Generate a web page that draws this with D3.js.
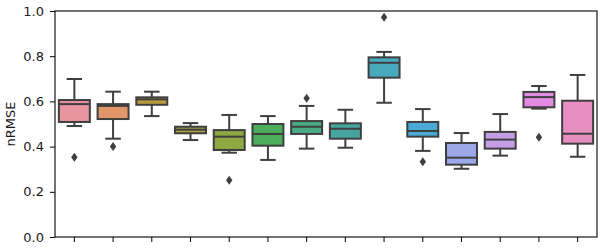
<!DOCTYPE html>
<html><head><meta charset="utf-8">
<script src="https://cdn.jsdelivr.net/npm/d3@7"></script>
<style>body{margin:0;background:#fff}svg{display:block}</style>
</head><body>
<svg id="c" width="604" height="248"></svg>
<script>
const categories = ["m1","m2","m3","m4","m5","m6","m7","m8","m9","m10","m11","m12","m13","m14"];
const whiskerLow = [0.491,0.435,0.535,0.429,0.373,0.341,0.391,0.395,0.594,0.381,0.302,0.360,0.568,0.355];
const q1 =         [0.509,0.522,0.585,0.459,0.385,0.404,0.456,0.435,0.705,0.444,0.320,0.391,0.574,0.413];
const median =     [0.588,0.580,0.609,0.475,0.444,0.456,0.488,0.479,0.771,0.469,0.351,0.431,0.619,0.457];
const q3 =         [0.606,0.588,0.618,0.488,0.473,0.500,0.513,0.503,0.795,0.509,0.416,0.465,0.642,0.603];
const whiskerHigh =[0.699,0.643,0.643,0.504,0.540,0.535,0.580,0.563,0.819,0.566,0.460,0.544,0.668,0.717];
const outliers =   [[0.353],[0.400],[],[],[0.251],[],[0.614],[],[0.972],[0.333],[],[],[0.441],[]];
const colors = ["#e8949f","#e3956a","#bb9a3e","#a9a03c","#8ea942","#4bad5c","#4aab87","#46a69f","#48a9be","#4ba9d6","#9ba9e8","#c59ee6","#e58ae2","#e68fc0"];
const yTicks = [0,0.2,0.4,0.6,0.8,1.0];
const yLabel = "nRMSE";

const svg = d3.select("#c");
const L=55,R=597,T=11,B=237;
const x = d3.scaleBand().domain(categories).range([L,R]).padding(0);
const y = d3.scaleLinear().domain([0,1]).range([B,T]);
const ink = "#3f3f3f";
const lw = 2;
const bw = x.bandwidth()*0.8;

const g = svg.append("g");
categories.forEach((c,i)=>{
  const cx = x(c)+x.bandwidth()/2;
  const gi = g.append("g");
  gi.append("line").attr("x1",cx).attr("x2",cx).attr("y1",y(q3[i])).attr("y2",y(whiskerHigh[i])).attr("stroke",ink).attr("stroke-width",lw);
  gi.append("line").attr("x1",cx).attr("x2",cx).attr("y1",y(q1[i])).attr("y2",y(whiskerLow[i])).attr("stroke",ink).attr("stroke-width",lw);
  [whiskerHigh[i],whiskerLow[i]].forEach(v=>{
    gi.append("line").attr("x1",cx-bw/4).attr("x2",cx+bw/4).attr("y1",y(v)).attr("y2",y(v)).attr("stroke",ink).attr("stroke-width",lw);
  });
  gi.append("rect").attr("x",cx-bw/2).attr("width",bw).attr("y",y(q3[i])).attr("height",y(q1[i])-y(q3[i]))
    .attr("fill",colors[i]).attr("stroke",ink).attr("stroke-width",lw);
  gi.append("line").attr("x1",cx-bw/2).attr("x2",cx+bw/2).attr("y1",y(median[i])).attr("y2",y(median[i])).attr("stroke",ink).attr("stroke-width",lw);
  outliers[i].forEach(v=>{
    const py=y(v);
    gi.append("path").attr("d",`M${cx},${py-4.5}L${cx+3.2},${py}L${cx},${py+4.5}L${cx-3.2},${py}Z`).attr("fill",ink);
  });
});

// axes
const yAxis = d3.axisLeft(y).tickValues(yTicks).tickFormat(d3.format(".1f")).tickSize(5).tickPadding(6);
const ya = svg.append("g").attr("transform",`translate(${L},0)`).call(yAxis);
const xAxis = d3.axisBottom(x).tickFormat("").tickSize(5);
const xa = svg.append("g").attr("transform",`translate(0,${B})`).call(xAxis);
[ya,xa].forEach(a=>{
  a.select(".domain").remove();
  a.selectAll(".tick line").attr("stroke","#000").attr("stroke-width",1);
  a.selectAll("text").attr("font-family","DejaVu Sans").attr("font-size",13).attr("fill","#1a1a1a");
});
svg.append("rect").attr("x",L).attr("y",T).attr("width",R-L).attr("height",B-T).attr("fill","none").attr("stroke","#000").attr("stroke-width",1.1);
svg.append("text").attr("transform",`translate(15,${(T+B)/2}) rotate(-90)`).attr("text-anchor","middle")
  .attr("font-family","DejaVu Sans").attr("font-size",13).attr("fill","#1a1a1a").text(yLabel);
</script>
</body></html>
